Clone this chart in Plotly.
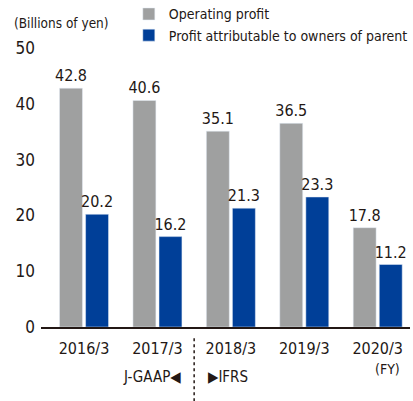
import plotly.graph_objects as go

categories = ["2016/3", "2017/3", "2018/3", "2019/3", "2020/3"]
operating_profit = [42.8, 40.6, 35.1, 36.5, 17.8]
profit_owners = [20.2, 16.2, 21.3, 23.3, 11.2]
y_ticks = [0, 10, 20, 30, 40, 50]

FONT = "DejaVu Sans Condensed, Roboto, sans-serif"
GRAY = "#9fa0a0"
BLUE = "#003f98"
TEXT = "#231815"

x = list(range(len(categories)))

fig = go.Figure()
fig.add_trace(go.Bar(
    x=x, y=operating_profit, name="Operating profit",
    marker_color=GRAY, text=[f"{v:.1f}" for v in operating_profit],
    textposition="outside", textfont=dict(size=16, color=TEXT, family=FONT),
    cliponaxis=False, constraintext="none",
))
fig.add_trace(go.Bar(
    x=x, y=profit_owners, name="Profit attributable to owners of parent",
    marker_color=BLUE, text=[f"{v:.1f}" for v in profit_owners],
    textposition="outside", textfont=dict(size=16, color=TEXT, family=FONT),
    cliponaxis=False, constraintext="none",
))

fig.update_layout(
    width=413, height=401,
    margin=dict(l=41, r=3, t=48, b=74, autoexpand=False),
    paper_bgcolor="white", plot_bgcolor="white",
    barmode="group", bargap=0.29, bargroupgap=0.12,
    font=dict(family=FONT, color=TEXT, size=17),
    showlegend=True,
    legend=dict(
        x=0.238, y=1.178, xanchor="left", yanchor="top",
        font=dict(size=14, color=TEXT, family=FONT),
        bgcolor="rgba(0,0,0,0)", tracegroupgap=0, itemwidth=30,
    ),
    xaxis=dict(
        tickmode="array", tickvals=x, ticktext=categories,
        range=[-0.586, 4.44], showgrid=False, zeroline=False,
        showline=True, linecolor="#231815", linewidth=1.5,
        ticks="", tickfont=dict(size=16, color=TEXT, family=FONT),
        ticklabelstandoff=6,
        tickangle=0, automargin=False, fixedrange=True,
    ),
    yaxis=dict(
        range=[0, 50], tickmode="array", tickvals=y_ticks,
        showgrid=False, zeroline=False, showline=False, ticks="",
        tickfont=dict(size=17, color=TEXT, family=FONT),
        ticklabelstandoff=5,
        automargin=False, fixedrange=True,
    ),
    annotations=[
        dict(text="(Billions of yen)", xref="paper", yref="paper", x=-0.0786, y=1.09,
             xanchor="left", yanchor="middle",
             showarrow=False, font=dict(size=13.5, color=TEXT, family=FONT)),
        dict(text="J-GAAP◀", xref="x", yref="paper", x=1.345, y=-0.18,
             xanchor="right", yanchor="middle", showarrow=False,
             font=dict(size=15, color=TEXT, family=FONT)),
        dict(text="▶IFRS", xref="x", yref="paper", x=1.655, y=-0.18,
             xanchor="left", yanchor="middle", showarrow=False,
             font=dict(size=15, color=TEXT, family=FONT)),
        dict(text="(FY)", xref="x", yref="paper", x=4.13, y=-0.15,
             xanchor="center", yanchor="middle", showarrow=False,
             font=dict(size=14, color=TEXT, family=FONT)),
    ],
    shapes=[
        dict(type="line", xref="x", yref="paper", x0=1.5, x1=1.5,
             y0=-0.04, y1=-0.27, line=dict(color="#231815", width=1.5, dash="3px,3px")),
    ],
)

fig.write_html("out.html", config={"displayModeBar": False},
               post_script="document.body.style.margin='0';")
